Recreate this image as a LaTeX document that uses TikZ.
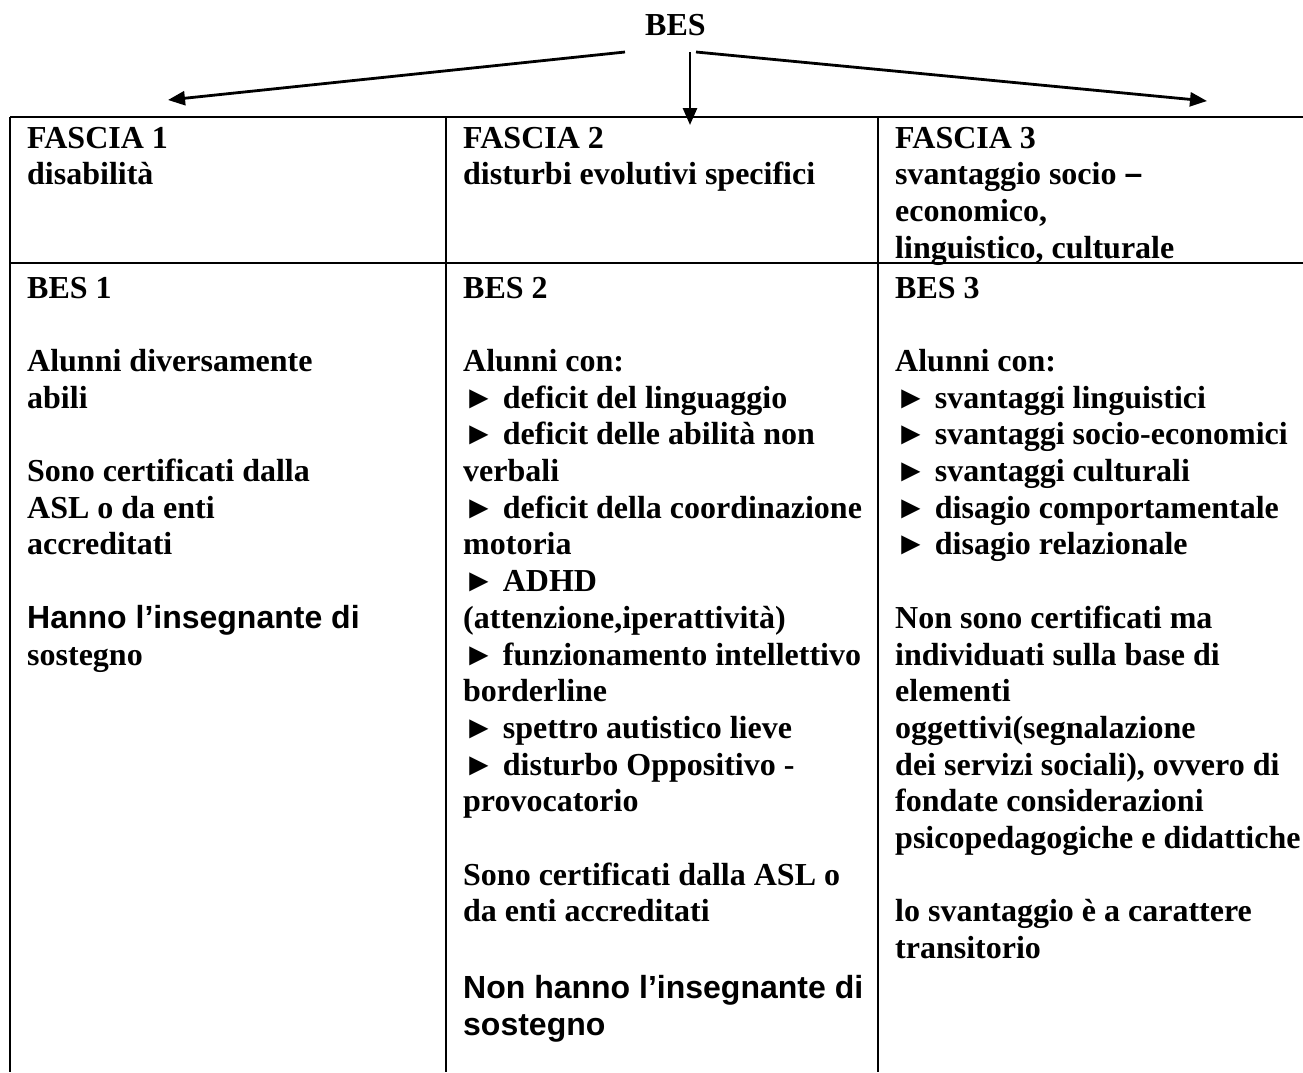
\documentclass[tikz,border=0pt]{standalone}
\usepackage{fontspec}
\setmainfont{Liberation Serif}
\setsansfont{Liberation Sans}
\usetikzlibrary{arrows.meta}
% body text: bold serif and bold sans, same size and leading
\newcommand{\tnr}{\fontsize{32}{36.7}\selectfont\bfseries}
\newcommand{\arl}{\fontsize{32}{36.7}\selectfont\sffamily\bfseries}
% a cell's text block; its baseline is the first line's
\newcommand{\cellbox}[1]{\begin{minipage}[t]{440pt}\raggedright\tnr #1\end{minipage}}
\begin{document}
\begin{tikzpicture}[x=1pt,y=-1pt,
  rule/.style={line width=2.6pt},
  link/.style={line width=2.8pt,-{Triangle[length=17pt,width=14pt]}},
  cell/.style={anchor=base west,inner sep=0pt}]
\useasboundingbox (0,0) rectangle (1303,1072);
\fill[white] (0,0) rectangle (1303,1072);

% table grid
\draw[rule] (10,117) -- (1303,117);
\draw[rule] (10,263) -- (1303,263);
\draw[rule] (10,117) -- (10,1072);
\draw[rule] (446,117) -- (446,1072);
\draw[rule] (878,117) -- (878,1072);

% title
\node[cell,font=\tnr] (bes) at (645,35) {BES};

% arrows from the title to the three columns
\coordinate (l0) at (625,52);
\coordinate (l1) at (168,100);
\coordinate (m0) at (690,52);
\coordinate (m1) at (690,125);
\coordinate (r0) at (696,52);
\coordinate (r1) at (1207,101);
\draw[link] (l0) -- (l1);
\draw[link] (m0) -- (m1);
\draw[link] (r0) -- (r1);

% header row
\node[cell] (f1) at (27,148) {\cellbox{FASCIA 1\\disabilità}};
\node[cell] (f2) at (463,148) {\cellbox{FASCIA 2\\disturbi evolutivi specifici}};
\node[cell] (f3) at (895,148) {\cellbox{FASCIA 3\\svantaggio socio {\sffamily –}\\economico,\\linguistico, culturale}};

% body row
\node[cell] (b1) at (27,298) {\cellbox{BES 1\\[36.7pt]
Alunni diversamente\\abili\\[36.7pt]
Sono certificati dalla\\ASL o da enti\\accreditati\\[36.7pt]
{\arl Hanno l’insegnante di}\\sostegno}};

\node[cell] (b2) at (463,298) {\cellbox{BES 2\\[36.7pt]
Alunni con:\\
► deficit del linguaggio\\
► deficit delle abilità non\\verbali\\
► deficit della coordinazione\\motoria\\
► ADHD\\(attenzione,iperattività)\\
► funzionamento intellettivo\\borderline\\
► spettro autistico lieve\\
► disturbo Oppositivo -\\provocatorio\\[36.7pt]
Sono certificati dalla ASL o\\da enti accreditati\\[39.8pt]
{\arl Non hanno l’insegnante di}\\{\arl sostegno}}};

\node[cell] (b3) at (895,298) {\cellbox{BES 3\\[36.7pt]
Alunni con:\\
► svantaggi linguistici\\
► svantaggi socio-economici\\
► svantaggi culturali\\
► disagio comportamentale\\
► disagio relazionale\\[36.7pt]
Non sono certificati ma\\individuati sulla base di\\elementi\\oggettivi(segnalazione\\dei servizi sociali), ovvero di\\fondate considerazioni\\psicopedagogiche e didattiche\\[36.7pt]
lo svantaggio è a carattere\\transitorio}};
\end{tikzpicture}
\end{document}
